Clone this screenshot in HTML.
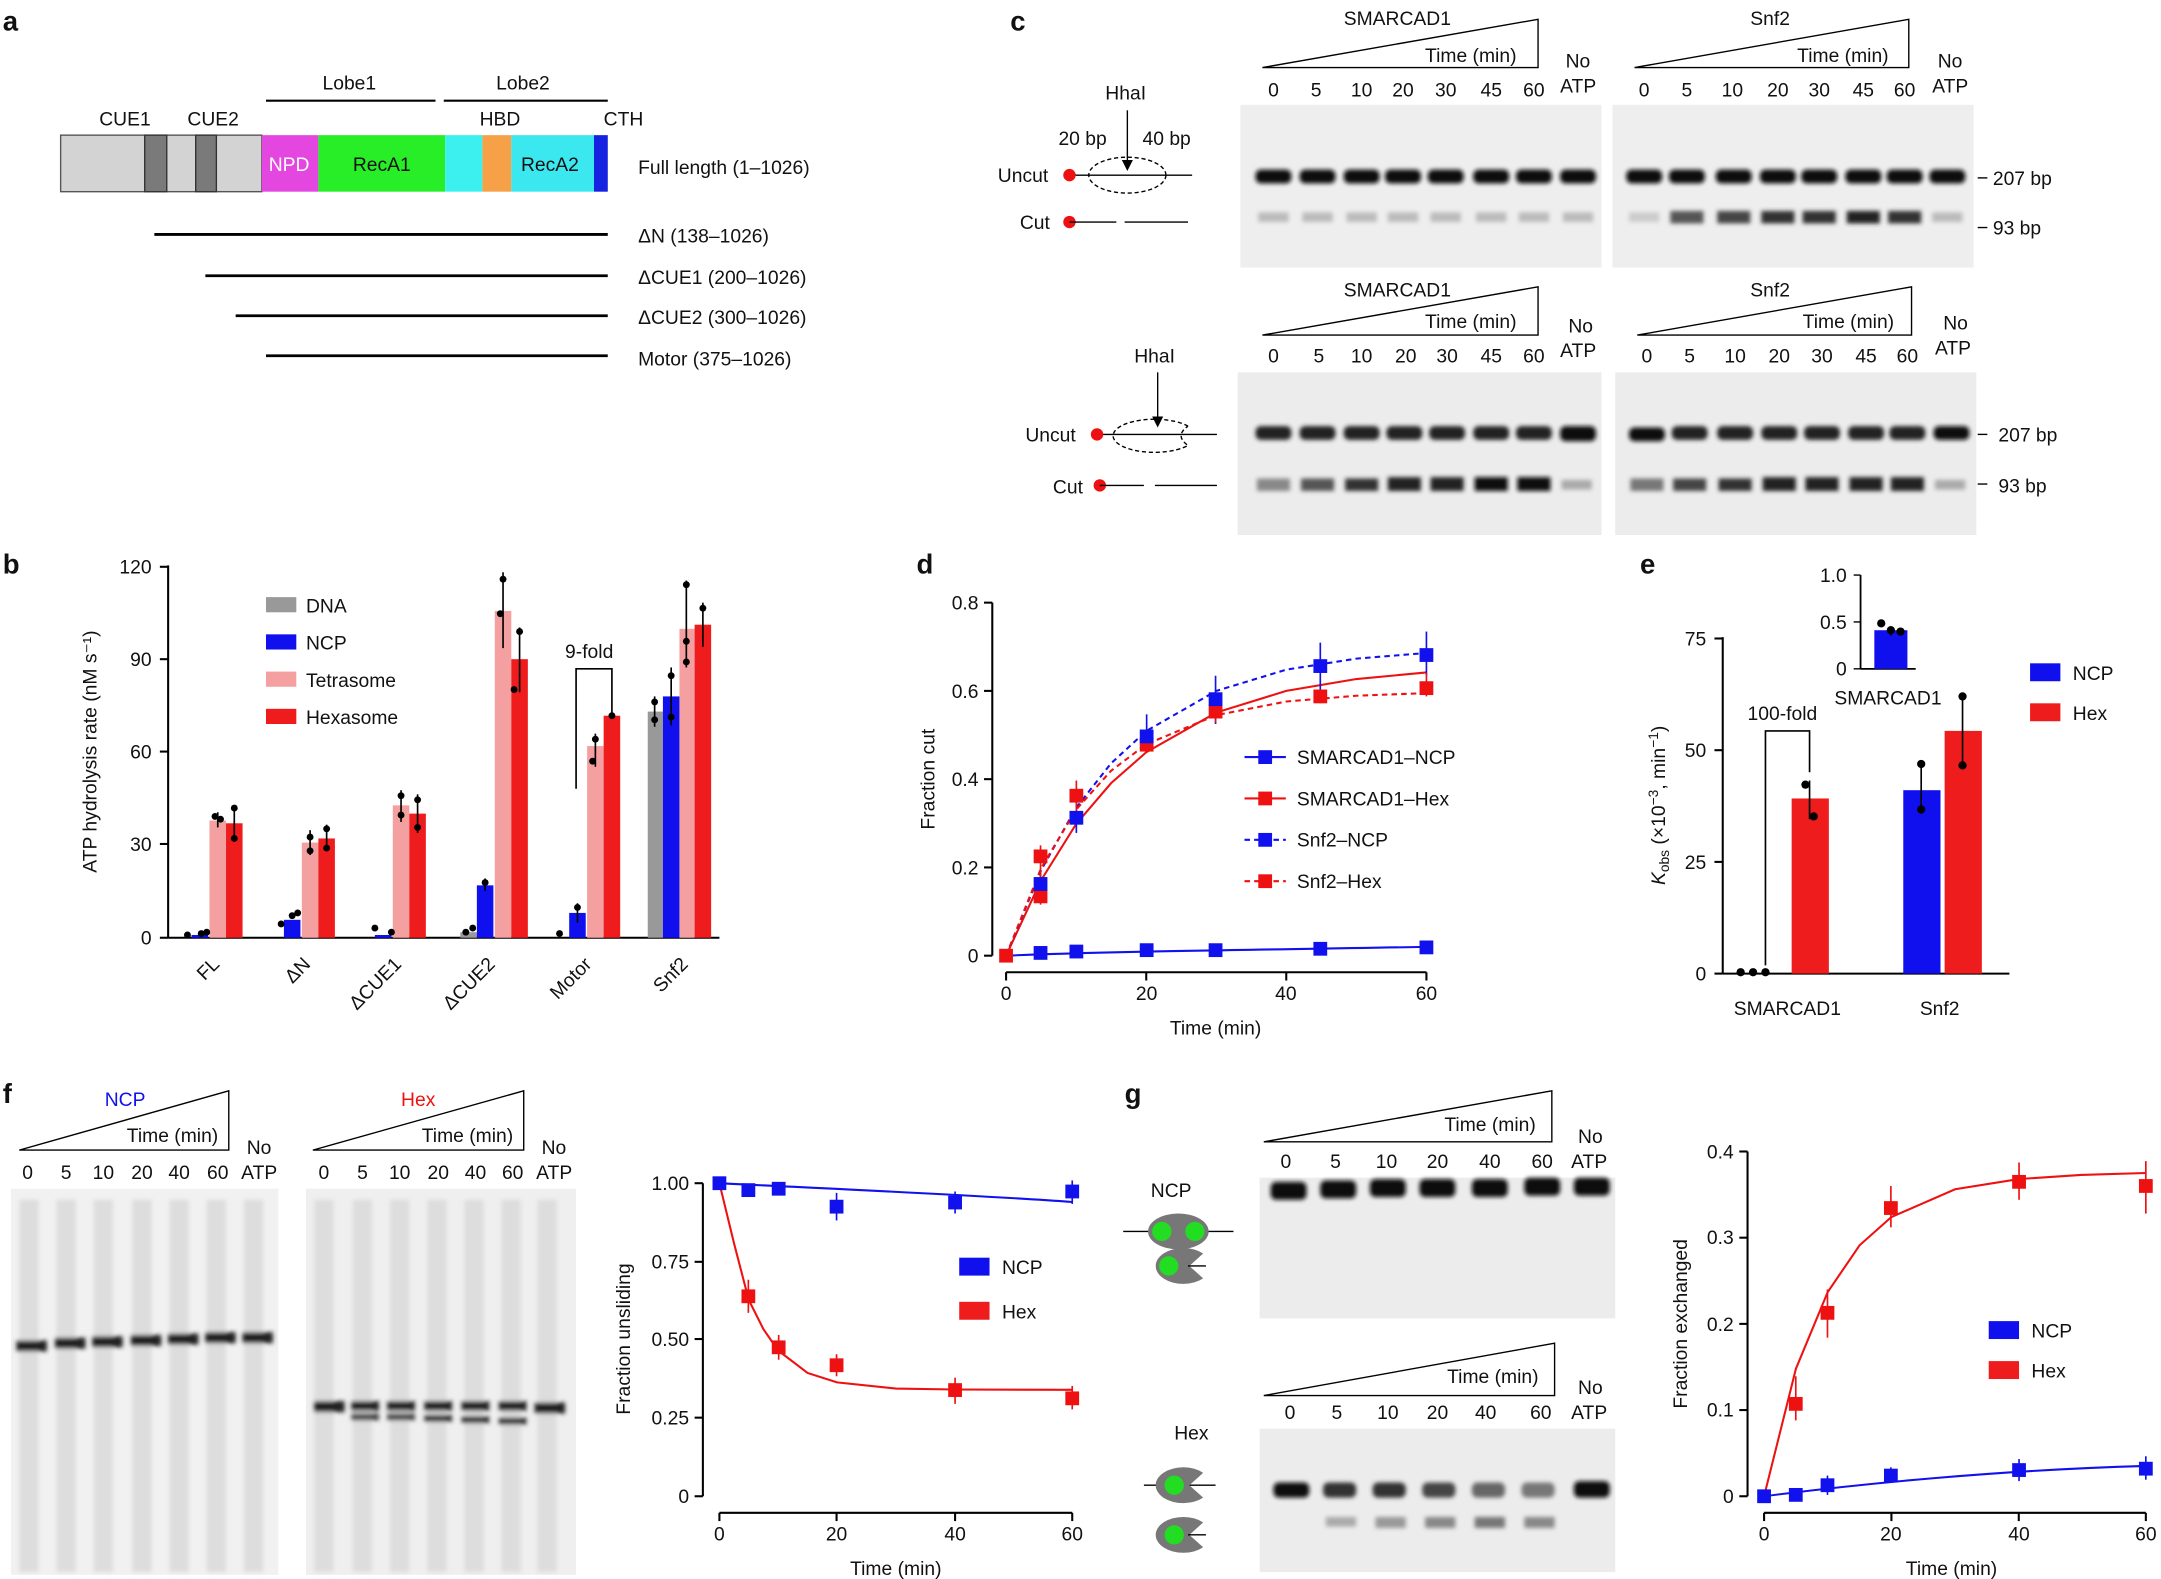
<!DOCTYPE html>
<html><head><meta charset="utf-8"><style>
html,body{margin:0;padding:0;background:#fff}
svg{display:block}
text{font-family:"Liberation Sans",Arial,sans-serif;fill:#111}
</style></head><body>
<svg width="2161" height="1579" viewBox="0 0 1568 1145" preserveAspectRatio="none" xmlns="http://www.w3.org/2000/svg">
<defs>
<filter id="bl" x="-20%" y="-50%" width="140%" height="200%"><feGaussianBlur stdDeviation="1.6"/></filter>
</defs>
<!-- Panel labels -->
<g font-weight="bold" font-size="20">
<text x="2" y="22">a</text><text x="733" y="22">c</text><text x="2" y="416">b</text>
<text x="665" y="416">d</text><text x="1190" y="416">e</text><text x="2" y="800">f</text><text x="816" y="800">g</text>
</g>

<!-- Panel a -->
<g font-size="14">
<text x="234" y="65">Lobe1</text><text x="360" y="65">Lobe2</text>
<line x1="193" y1="73" x2="316" y2="73" stroke="#000" stroke-width="1.5"/>
<line x1="322" y1="73" x2="441" y2="73" stroke="#000" stroke-width="1.5"/>
<text x="72" y="91">CUE1</text><text x="136" y="91">CUE2</text><text x="348" y="91">HBD</text><text x="438" y="91">CTH</text>
<rect x="44" y="98" width="146" height="41" fill="#d3d3d3" stroke="#555" stroke-width="1"/>
<rect x="105" y="98" width="16" height="41" fill="#7a7a7a" stroke="#333"/>
<rect x="142" y="98" width="15" height="41" fill="#7a7a7a" stroke="#333"/>
<rect x="190" y="98" width="41" height="41" fill="#e446e0"/>
<rect x="231" y="98" width="92" height="41" fill="#28ee28"/>
<rect x="323" y="98" width="27" height="41" fill="#3cf0f0"/>
<rect x="350" y="98" width="21" height="41" fill="#f6a048"/>
<rect x="371" y="98" width="60" height="41" fill="#3ce8ef"/>
<rect x="431" y="98" width="10" height="41" fill="#1522e0"/>
<text x="195" y="124" fill="#fff" style="fill:#fff">NPD</text>
<text x="256" y="124">RecA1</text><text x="378" y="124">RecA2</text>
<text x="463" y="126">Full length (1–1026)</text>
<g stroke="#000" stroke-width="2">
<line x1="112" y1="170" x2="441" y2="170"/><line x1="149" y1="200" x2="441" y2="200"/>
<line x1="171" y1="229" x2="441" y2="229"/><line x1="193" y1="258" x2="441" y2="258"/></g>
<text x="463" y="176">ΔN (138–1026)</text><text x="463" y="206">ΔCUE1 (200–1026)</text>
<text x="463" y="235">ΔCUE2 (300–1026)</text><text x="463" y="265">Motor (375–1026)</text>
</g>

<!-- Panel b -->
<g font-size="14">
<line x1="122" y1="410" x2="122" y2="680" stroke="#000" stroke-width="1.5"/>
<line x1="122" y1="680" x2="522" y2="680" stroke="#000" stroke-width="1.5"/>
<g stroke="#000" stroke-width="1.5"><line x1="116" y1="411" x2="122" y2="411"/><line x1="116" y1="478" x2="122" y2="478"/><line x1="116" y1="545" x2="122" y2="545"/><line x1="116" y1="612" x2="122" y2="612"/><line x1="116" y1="680" x2="122" y2="680"/></g>
<g text-anchor="end"><text x="110" y="416">120</text><text x="110" y="483">90</text><text x="110" y="550">60</text><text x="110" y="617">30</text><text x="110" y="685">0</text></g>
<text transform="translate(70,545) rotate(-90)" text-anchor="middle">ATP hydrolysis rate (nM s⁻¹)</text>
<rect x="193" y="433" width="22" height="11" fill="#999"/><text x="222" y="444">DNA</text>
<rect x="193" y="460" width="22" height="11" fill="#1010ee"/><text x="222" y="471">NCP</text>
<rect x="193" y="487" width="22" height="11" fill="#f5a0a0"/><text x="222" y="498">Tetrasome</text>
<rect x="193" y="514" width="22" height="11" fill="#ee1c1c"/><text x="222" y="525">Hexasome</text>
<text x="410" y="477">9-fold</text>
<polyline points="418,572 418,485 444,485 444,520" fill="none" stroke="#000" stroke-width="1.2"/>
<!-- bars: y = 680 - v*2.24 -->
<g>
<rect x="139" y="678" width="12" height="2" fill="#1010ee"/>
<rect x="152" y="595" width="12" height="85" fill="#f5a0a0"/><rect x="164" y="597" width="12" height="83" fill="#ee1c1c"/>
<rect x="206" y="667" width="12" height="13" fill="#1010ee"/>
<rect x="219" y="611" width="12" height="69" fill="#f5a0a0"/><rect x="231" y="608" width="12" height="72" fill="#ee1c1c"/>
<rect x="272" y="678" width="12" height="2" fill="#1010ee"/>
<rect x="285" y="584" width="12" height="96" fill="#f5a0a0"/><rect x="297" y="590" width="12" height="90" fill="#ee1c1c"/>
<rect x="334" y="676" width="12" height="4" fill="#999"/>
<rect x="346" y="642" width="12" height="38" fill="#1010ee"/>
<rect x="359" y="443" width="12" height="237" fill="#f5a0a0"/><rect x="371" y="478" width="12" height="202" fill="#ee1c1c"/>
<rect x="413" y="662" width="12" height="18" fill="#1010ee"/>
<rect x="426" y="541" width="12" height="139" fill="#f5a0a0"/><rect x="438" y="519" width="12" height="161" fill="#ee1c1c"/>
<rect x="470" y="516" width="11" height="164" fill="#999"/><rect x="481" y="505" width="12" height="175" fill="#1010ee"/>
<rect x="493" y="456" width="11" height="224" fill="#f5a0a0"/><rect x="504" y="453" width="12" height="227" fill="#ee1c1c"/>
</g>
<g stroke="#000" stroke-width="1.2">
<line x1="158" y1="589" x2="158" y2="600"/><line x1="170" y1="584" x2="170" y2="610"/>
<line x1="225" y1="602" x2="225" y2="620"/><line x1="237" y1="598" x2="237" y2="617"/>
<line x1="291" y1="573" x2="291" y2="596"/><line x1="303" y1="576" x2="303" y2="604"/>
<line x1="352" y1="637" x2="352" y2="646"/>
<line x1="365" y1="415" x2="365" y2="470"/><line x1="377" y1="455" x2="377" y2="502"/>
<line x1="419" y1="655" x2="419" y2="669"/>
<line x1="432" y1="532" x2="432" y2="556"/><line x1="444" y1="518" x2="444" y2="520"/>
<line x1="475" y1="505" x2="475" y2="527"/><line x1="487" y1="484" x2="487" y2="526"/>
<line x1="498" y1="421" x2="498" y2="484"/><line x1="510" y1="437" x2="510" y2="469"/>
</g>
<g fill="#000">
<circle cx="136" cy="678" r="2.5"/><circle cx="146" cy="677" r="2.5"/><circle cx="150" cy="676" r="2.5"/>
<circle cx="156" cy="592" r="2.5"/><circle cx="160" cy="594" r="2.5"/><circle cx="170" cy="586" r="2.5"/><circle cx="170" cy="608" r="2.5"/>
<circle cx="204" cy="670" r="2.5"/><circle cx="212" cy="664" r="2.5"/><circle cx="216" cy="662" r="2.5"/>
<circle cx="225" cy="607" r="2.5"/><circle cx="225" cy="617" r="2.5"/><circle cx="237" cy="601" r="2.5"/><circle cx="237" cy="615" r="2.5"/>
<circle cx="272" cy="673" r="2.5"/><circle cx="284" cy="676" r="2.5"/>
<circle cx="291" cy="577" r="2.5"/><circle cx="291" cy="591" r="2.5"/><circle cx="303" cy="580" r="2.5"/><circle cx="303" cy="600" r="2.5"/>
<circle cx="338" cy="676" r="2.5"/><circle cx="343" cy="673" r="2.5"/><circle cx="352" cy="640" r="2.5"/>
<circle cx="365" cy="420" r="2.5"/><circle cx="363" cy="445" r="2.5"/><circle cx="377" cy="458" r="2.5"/><circle cx="373" cy="500" r="2.5"/>
<circle cx="406" cy="677" r="2.5"/><circle cx="419" cy="658" r="2.5"/>
<circle cx="432" cy="536" r="2.5"/><circle cx="430" cy="552" r="2.5"/><circle cx="444" cy="519" r="2.5"/>
<circle cx="475" cy="509" r="2.5"/><circle cx="475" cy="522" r="2.5"/><circle cx="487" cy="490" r="2.5"/><circle cx="487" cy="520" r="2.5"/>
<circle cx="498" cy="424" r="2.5"/><circle cx="498" cy="465" r="2.5"/><circle cx="498" cy="480" r="2.5"/><circle cx="510" cy="441" r="2.5"/>
</g>
<g text-anchor="end" font-size="14">
<text transform="translate(160,700) rotate(-45)">FL</text>
<text transform="translate(226,700) rotate(-45)">ΔN</text>
<text transform="translate(292,700) rotate(-45)">ΔCUE1</text>
<text transform="translate(360,700) rotate(-45)">ΔCUE2</text>
<text transform="translate(430,700) rotate(-45)">Motor</text>
<text transform="translate(500,700) rotate(-45)">Snf2</text>
</g>
</g>

<!-- Panel c -->
<g font-size="14">
<!-- top-left schematic -->
<text x="802" y="72">HhaI</text><text x="768" y="105">20 bp</text><text x="829" y="105">40 bp</text>
<line x1="818" y1="80" x2="818" y2="122" stroke="#000"/><polygon points="814,116 822,116 818,124" fill="#000"/>
<ellipse cx="818" cy="127" rx="28" ry="13" fill="none" stroke="#000" stroke-dasharray="3,2"/>
<line x1="776" y1="127" x2="865" y2="127" stroke="#000"/><circle cx="776" cy="127" r="4.5" fill="#e11"/>
<text x="724" y="132">Uncut</text>
<text x="740" y="166">Cut</text><circle cx="776" cy="161" r="4.5" fill="#e11"/>
<line x1="776" y1="161" x2="810" y2="161" stroke="#000"/><line x1="816" y1="161" x2="862" y2="161" stroke="#000"/>
<!-- bottom-left schematic -->
<text x="823" y="263">HhaI</text>
<line x1="840" y1="270" x2="840" y2="308" stroke="#000"/><polygon points="836,302 844,302 840,310" fill="#000"/>
<path d="M862,309 A30,12 0 1,0 862,323 Q852,316 862,309" fill="none" stroke="#000" stroke-dasharray="3,2"/>
<line x1="796" y1="315" x2="883" y2="315" stroke="#000"/><circle cx="796" cy="315" r="4.5" fill="#e11"/>
<text x="744" y="320">Uncut</text>
<text x="764" y="358">Cut</text><circle cx="798" cy="352" r="4.5" fill="#e11"/>
<line x1="798" y1="352" x2="830" y2="352" stroke="#000"/><line x1="838" y1="352" x2="883" y2="352" stroke="#000"/>

<!-- headers -->
<text x="975" y="18">SMARCAD1</text><text x="1270" y="18">Snf2</text>
<polygon points="916,49 1116,14 1116,49" fill="none" stroke="#000"/>
<polygon points="1186,49 1385,14 1385,49" fill="none" stroke="#000"/>
<text x="1034" y="45">Time (min)</text><text x="1304" y="45">Time (min)</text>
<text x="1136" y="49">No</text><text x="1132" y="67">ATP</text><text x="1406" y="49">No</text><text x="1402" y="67">ATP</text>
<g text-anchor="middle"><text x="924" y="70">0</text><text x="955" y="70">5</text><text x="988" y="70">10</text><text x="1018" y="70">20</text><text x="1049" y="70">30</text><text x="1082" y="70">45</text><text x="1113" y="70">60</text>
<text x="1193" y="70">0</text><text x="1224" y="70">5</text><text x="1257" y="70">10</text><text x="1290" y="70">20</text><text x="1320" y="70">30</text><text x="1352" y="70">45</text><text x="1382" y="70">60</text></g>

<text x="975" y="215">SMARCAD1</text><text x="1270" y="215">Snf2</text>
<polygon points="916,243 1116,208 1116,243" fill="none" stroke="#000"/>
<polygon points="1188,243 1387,208 1387,243" fill="none" stroke="#000"/>
<text x="1034" y="238">Time (min)</text><text x="1308" y="238">Time (min)</text>
<text x="1138" y="241">No</text><text x="1132" y="259">ATP</text><text x="1410" y="239">No</text><text x="1404" y="257">ATP</text>
<g text-anchor="middle"><text x="924" y="263">0</text><text x="957" y="263">5</text><text x="988" y="263">10</text><text x="1020" y="263">20</text><text x="1050" y="263">30</text><text x="1082" y="263">45</text><text x="1113" y="263">60</text>
<text x="1195" y="263">0</text><text x="1226" y="263">5</text><text x="1259" y="263">10</text><text x="1291" y="263">20</text><text x="1322" y="263">30</text><text x="1354" y="263">45</text><text x="1384" y="263">60</text></g>

<!-- gels -->
<rect x="900" y="76" width="262" height="118" fill="#eeeeee"/>
<rect x="1170" y="76" width="262" height="118" fill="#eeeeee"/>
<rect x="898" y="270" width="264" height="118" fill="#ececec"/>
<rect x="1172" y="270" width="262" height="118" fill="#ececec"/>
<g filter="url(#bl)">
<g fill="#111">
<rect x="911" y="123" width="26" height="10" rx="4"/><rect x="943" y="123" width="26" height="10" rx="4"/><rect x="975" y="123" width="26" height="10" rx="4"/><rect x="1005" y="123" width="26" height="10" rx="4"/><rect x="1036" y="123" width="26" height="10" rx="4"/><rect x="1069" y="123" width="26" height="10" rx="4"/><rect x="1100" y="123" width="26" height="10" rx="4"/><rect x="1132" y="123" width="26" height="10" rx="4"/>
<rect x="1180" y="123" width="26" height="10" rx="4"/><rect x="1211" y="123" width="26" height="10" rx="4"/><rect x="1245" y="123" width="26" height="10" rx="4"/><rect x="1277" y="123" width="26" height="10" rx="4"/><rect x="1307" y="123" width="26" height="10" rx="4"/><rect x="1339" y="123" width="26" height="10" rx="4"/><rect x="1369" y="123" width="26" height="10" rx="4"/><rect x="1400" y="123" width="26" height="10" rx="4"/>
</g>
<g fill="#bbb"><rect x="913" y="154" width="22" height="7"/><rect x="945" y="154" width="22" height="7"/><rect x="977" y="154" width="22" height="7"/><rect x="1007" y="154" width="22" height="7"/><rect x="1038" y="154" width="22" height="7"/><rect x="1071" y="154" width="22" height="7"/><rect x="1102" y="154" width="22" height="7"/><rect x="1134" y="154" width="22" height="7"/></g>
<rect x="1182" y="154" width="22" height="7" fill="#ccc"/><rect x="1212" y="153" width="24" height="9" fill="#555"/><rect x="1246" y="153" width="24" height="9" fill="#444"/><rect x="1278" y="153" width="24" height="9" fill="#333"/><rect x="1308" y="153" width="24" height="9" fill="#333"/><rect x="1340" y="153" width="24" height="9" fill="#222"/><rect x="1370" y="153" width="24" height="9" fill="#333"/><rect x="1402" y="154" width="22" height="7" fill="#bbb"/>
<g fill="#222">
<rect x="911" y="309" width="26" height="10" rx="4"/><rect x="943" y="309" width="26" height="10" rx="4"/><rect x="975" y="309" width="26" height="10" rx="4"/><rect x="1006" y="309" width="26" height="10" rx="4"/><rect x="1037" y="309" width="26" height="10" rx="4"/><rect x="1069" y="309" width="26" height="10" rx="4"/><rect x="1100" y="309" width="26" height="10" rx="4"/><rect x="1132" y="309" width="26" height="11" rx="4" fill="#111"/>
<rect x="1182" y="310" width="26" height="10" rx="4" fill="#111"/><rect x="1213" y="309" width="26" height="10" rx="4"/><rect x="1246" y="309" width="26" height="10" rx="4"/><rect x="1278" y="309" width="26" height="10" rx="4"/><rect x="1309" y="309" width="26" height="10" rx="4"/><rect x="1341" y="309" width="26" height="10" rx="4"/><rect x="1371" y="309" width="26" height="10" rx="4"/><rect x="1403" y="309" width="26" height="10" rx="4" fill="#111"/>
</g>
<g fill="#333">
<rect x="912" y="347" width="24" height="9" fill="#888"/><rect x="944" y="347" width="24" height="9" fill="#555"/><rect x="976" y="347" width="24" height="9"/><rect x="1007" y="346" width="24" height="10" fill="#222"/><rect x="1038" y="346" width="24" height="10" fill="#222"/><rect x="1070" y="346" width="24" height="10" fill="#111"/><rect x="1101" y="346" width="24" height="10" fill="#111"/><rect x="1133" y="348" width="22" height="7" fill="#aaa"/>
<rect x="1183" y="347" width="24" height="9" fill="#777"/><rect x="1214" y="347" width="24" height="9" fill="#444"/><rect x="1247" y="347" width="24" height="9"/><rect x="1279" y="346" width="24" height="10" fill="#222"/><rect x="1310" y="346" width="24" height="10" fill="#222"/><rect x="1342" y="346" width="24" height="10" fill="#222"/><rect x="1372" y="346" width="24" height="10" fill="#222"/><rect x="1404" y="348" width="22" height="7" fill="#aaa"/>
</g>
</g>
<g stroke="#000"><line x1="1435" y1="129" x2="1442" y2="129"/><line x1="1435" y1="165" x2="1442" y2="165"/><line x1="1435" y1="315" x2="1442" y2="315"/><line x1="1435" y1="351" x2="1442" y2="351"/></g>
<text x="1446" y="134">207 bp</text><text x="1446" y="170">93 bp</text><text x="1450" y="320">207 bp</text><text x="1450" y="357">93 bp</text>
</g>

<!-- Panel d -->
<g font-size="14">
<line x1="720" y1="437" x2="720" y2="693" stroke="#000" stroke-width="1.5"/>
<line x1="730" y1="705" x2="1035" y2="705" stroke="#000" stroke-width="1.5"/>
<g stroke="#000" stroke-width="1.5"><line x1="714" y1="437" x2="720" y2="437"/><line x1="714" y1="501" x2="720" y2="501"/><line x1="714" y1="565" x2="720" y2="565"/><line x1="714" y1="629" x2="720" y2="629"/><line x1="714" y1="693" x2="720" y2="693"/>
<line x1="730" y1="705" x2="730" y2="711"/><line x1="831.7" y1="705" x2="831.7" y2="711"/><line x1="933.3" y1="705" x2="933.3" y2="711"/><line x1="1035" y1="705" x2="1035" y2="711"/></g>
<g text-anchor="end"><text x="710" y="442">0.8</text><text x="710" y="506">0.6</text><text x="710" y="570">0.4</text><text x="710" y="634">0.2</text><text x="710" y="698">0</text></g>
<g text-anchor="middle"><text x="730" y="725">0</text><text x="832" y="725">20</text><text x="933" y="725">40</text><text x="1035" y="725">60</text><text x="882" y="750">Time (min)</text></g>
<text transform="translate(678,565) rotate(-90)" text-anchor="middle">Fraction cut</text>
<path d="M730,693 C800,690 900,689 1035,686.6" fill="none" stroke="#11e" stroke-width="1.5"/>
<polyline points="730,693 755.4,638.3 780.8,597.6 806.2,567.9 831.7,545.5 882.5,516.7 933.3,501 984.2,492.4 1035,487.6" fill="none" stroke="#e11" stroke-width="1.5"/>
<polyline points="730,693 755.4,631 780.8,585.8 806.2,553.5 831.7,530.1 882.5,501 933.3,485.6 984.2,477.6 1035,473.5" fill="none" stroke="#11e" stroke-width="1.5" stroke-dasharray="4,3"/>
<polyline points="730,693 755.4,629.6 780.8,587.1 806.2,558.9 831.7,539.7 882.5,518.6 933.3,508.7 984.2,504.5 1035,502.6" fill="none" stroke="#e11" stroke-width="1.5" stroke-dasharray="4,3"/>
<g stroke="#11e" stroke-width="1.2"><line x1="755" y1="632" x2="755" y2="650"/><line x1="781" y1="582" x2="781" y2="604"/><line x1="832" y1="518" x2="832" y2="545"/><line x1="882" y1="490" x2="882" y2="525"/><line x1="958" y1="466" x2="958" y2="500"/><line x1="1035" y1="458" x2="1035" y2="490"/></g>
<g stroke="#e11" stroke-width="1.2"><line x1="755" y1="613" x2="755" y2="656"/><line x1="781" y1="566" x2="781" y2="588"/><line x1="882" y1="510" x2="882" y2="524"/><line x1="958" y1="500" x2="958" y2="510"/><line x1="1035" y1="488" x2="1035" y2="505"/></g>
<g fill="#e11"><rect x="725" y="688" width="10" height="10"/><rect x="750" y="616" width="10" height="10"/><rect x="750" y="645" width="10" height="10"/><rect x="776" y="572" width="10" height="10"/><rect x="827" y="535" width="10" height="10"/><rect x="877" y="511" width="10" height="10"/><rect x="953" y="500" width="10" height="10"/><rect x="1030" y="494" width="10" height="10"/></g>
<g fill="#11e"><rect x="750" y="636" width="10" height="10"/><rect x="776" y="588" width="10" height="10"/><rect x="827" y="529" width="10" height="10"/><rect x="877" y="502" width="10" height="10"/><rect x="953" y="478" width="10" height="10"/><rect x="1030" y="470" width="10" height="10"/>
<rect x="750" y="686" width="10" height="10"/><rect x="776" y="685" width="10" height="10"/><rect x="827" y="684" width="10" height="10"/><rect x="877" y="684" width="10" height="10"/><rect x="953" y="683" width="10" height="10"/><rect x="1030" y="682" width="10" height="10"/></g>
<line x1="903" y1="549" x2="933" y2="549" stroke="#11e" stroke-width="1.5"/><rect x="913" y="544" width="10" height="10" fill="#11e"/><text x="941" y="554">SMARCAD1–NCP</text>
<line x1="903" y1="579" x2="933" y2="579" stroke="#e11" stroke-width="1.5"/><rect x="913" y="574" width="10" height="10" fill="#e11"/><text x="941" y="584">SMARCAD1–Hex</text>
<line x1="903" y1="609" x2="933" y2="609" stroke="#11e" stroke-width="1.5" stroke-dasharray="4,3"/><rect x="913" y="604" width="10" height="10" fill="#11e"/><text x="941" y="614">Snf2–NCP</text>
<line x1="903" y1="639" x2="933" y2="639" stroke="#e11" stroke-width="1.5" stroke-dasharray="4,3"/><rect x="913" y="634" width="10" height="10" fill="#e11"/><text x="941" y="644">Snf2–Hex</text>
</g>

<!-- Panel e -->
<g font-size="14">
<line x1="1250" y1="462" x2="1250" y2="706" stroke="#000" stroke-width="1.5"/>
<line x1="1250" y1="706" x2="1458" y2="706" stroke="#000" stroke-width="1.5"/>
<g stroke="#000" stroke-width="1.5"><line x1="1244" y1="463" x2="1250" y2="463"/><line x1="1244" y1="544" x2="1250" y2="544"/><line x1="1244" y1="625" x2="1250" y2="625"/><line x1="1244" y1="706" x2="1250" y2="706"/></g>
<g text-anchor="end"><text x="1238" y="468">75</text><text x="1238" y="549">50</text><text x="1238" y="630">25</text><text x="1238" y="711">0</text></g>
<text transform="translate(1208,584) rotate(-90)" text-anchor="middle"><tspan font-style="italic">K</tspan><tspan font-size="10" dy="3">obs</tspan><tspan dy="-3"> (×10</tspan><tspan font-size="10" dy="-5">−3</tspan><tspan dy="5">, min</tspan><tspan font-size="10" dy="-5">−1</tspan><tspan dy="5">)</tspan></text>
<rect x="1300" y="579" width="27" height="127" fill="#ee1c1c"/>
<rect x="1381" y="573" width="27" height="133" fill="#1010ee"/>
<rect x="1411" y="530" width="27" height="176" fill="#ee1c1c"/>
<g stroke="#000" stroke-width="1.2"><line x1="1313" y1="566" x2="1313" y2="594"/><line x1="1394" y1="553" x2="1394" y2="590"/><line x1="1424" y1="504" x2="1424" y2="557"/></g>
<g fill="#000"><circle cx="1263" cy="705" r="3"/><circle cx="1272" cy="705" r="3"/><circle cx="1281" cy="705" r="3"/>
<circle cx="1310" cy="569" r="3"/><circle cx="1316" cy="592" r="3"/><circle cx="1394" cy="554" r="3"/><circle cx="1394" cy="587" r="3"/><circle cx="1424" cy="505" r="3"/><circle cx="1424" cy="555" r="3"/></g>
<polyline points="1281,700 1281,530 1313,530 1313,560" fill="none" stroke="#000" stroke-width="1.2"/>
<text x="1268" y="522">100-fold</text>
<text x="1258" y="736">SMARCAD1</text><text x="1393" y="736">Snf2</text>
<!-- inset -->
<line x1="1350" y1="417" x2="1350" y2="485" stroke="#000" stroke-width="1.3"/>
<line x1="1350" y1="485" x2="1390" y2="485" stroke="#000" stroke-width="1.3"/>
<g stroke="#000"><line x1="1345" y1="417" x2="1350" y2="417"/><line x1="1345" y1="451" x2="1350" y2="451"/><line x1="1345" y1="485" x2="1350" y2="485"/></g>
<g text-anchor="end"><text x="1340" y="422">1.0</text><text x="1340" y="456">0.5</text><text x="1340" y="490">0</text></g>
<rect x="1360" y="457" width="24" height="28" fill="#1010ee"/>
<line x1="1372" y1="454" x2="1372" y2="461" stroke="#000"/>
<g fill="#000"><circle cx="1365" cy="452" r="3"/><circle cx="1372" cy="457" r="3"/><circle cx="1379" cy="458" r="3"/></g>
<text x="1331" y="511">SMARCAD1</text>
<rect x="1473" y="481" width="22" height="13" fill="#1010ee"/><text x="1504" y="493">NCP</text>
<rect x="1473" y="510" width="22" height="13" fill="#ee1c1c"/><text x="1504" y="522">Hex</text>
</g>

<!-- Panel f -->
<g font-size="14">
<text x="76" y="802" fill="#11e" style="fill:#1111ee">NCP</text><text x="291" y="802" style="fill:#ee1111">Hex</text>
<polygon points="14,834 166,791 166,834" fill="none" stroke="#000"/>
<polygon points="227,834 380,791 380,834" fill="none" stroke="#000"/>
<text x="92" y="828">Time (min)</text><text x="306" y="828">Time (min)</text>
<text x="179" y="837">No</text><text x="175" y="855">ATP</text><text x="393" y="837">No</text><text x="389" y="855">ATP</text>
<g text-anchor="middle"><text x="20" y="855">0</text><text x="48" y="855">5</text><text x="75" y="855">10</text><text x="103" y="855">20</text><text x="130" y="855">40</text><text x="158" y="855">60</text>
<text x="235" y="855">0</text><text x="263" y="855">5</text><text x="290" y="855">10</text><text x="318" y="855">20</text><text x="345" y="855">40</text><text x="372" y="855">60</text></g>
<rect x="8" y="862" width="194" height="280" fill="#f1f1f1"/>
<rect x="222" y="862" width="196" height="280" fill="#efefef"/>
<g filter="url(#bl)">
<g fill="#ddd"><rect x="14" y="870" width="14" height="270"/><rect x="41" y="870" width="14" height="270"/><rect x="68" y="870" width="14" height="270"/><rect x="96" y="870" width="14" height="270"/><rect x="123" y="870" width="14" height="270"/><rect x="150" y="870" width="14" height="270"/><rect x="177" y="870" width="14" height="270"/>
<rect x="228" y="870" width="14" height="270"/><rect x="256" y="870" width="14" height="270"/><rect x="283" y="870" width="14" height="270"/><rect x="310" y="870" width="14" height="270"/><rect x="337" y="870" width="14" height="270"/><rect x="364" y="870" width="14" height="270"/><rect x="390" y="870" width="14" height="270"/></g>
<g fill="#222"><rect x="12" y="972" width="22" height="8"/><rect x="40" y="970" width="22" height="8"/><rect x="67" y="969" width="22" height="8"/><rect x="95" y="968" width="22" height="8"/><rect x="122" y="967" width="22" height="8"/><rect x="149" y="966" width="22" height="8"/><rect x="176" y="966" width="22" height="8"/>
<rect x="228" y="1016" width="22" height="8"/><rect x="255" y="1016" width="20" height="7"/><rect x="255" y="1025" width="20" height="5" fill="#444"/><rect x="281" y="1016" width="20" height="7"/><rect x="281" y="1025" width="20" height="5" fill="#444"/><rect x="308" y="1016" width="20" height="7"/><rect x="308" y="1026" width="20" height="5" fill="#333"/><rect x="335" y="1016" width="20" height="7"/><rect x="335" y="1027" width="20" height="5" fill="#333"/><rect x="362" y="1016" width="20" height="7"/><rect x="362" y="1028" width="20" height="5" fill="#333"/><rect x="388" y="1017" width="22" height="8"/></g>
</g>
<line x1="510" y1="858" x2="510" y2="1085" stroke="#000" stroke-width="1.5"/>
<line x1="522" y1="1097" x2="778" y2="1097" stroke="#000" stroke-width="1.5"/>
<g stroke="#000" stroke-width="1.5"><line x1="504" y1="858" x2="510" y2="858"/><line x1="504" y1="915" x2="510" y2="915"/><line x1="504" y1="971" x2="510" y2="971"/><line x1="504" y1="1028" x2="510" y2="1028"/><line x1="504" y1="1085" x2="510" y2="1085"/>
<line x1="522" y1="1097" x2="522" y2="1103"/><line x1="607" y1="1097" x2="607" y2="1103"/><line x1="693" y1="1097" x2="693" y2="1103"/><line x1="778" y1="1097" x2="778" y2="1103"/></g>
<g text-anchor="end"><text x="500" y="863">1.00</text><text x="500" y="920">0.75</text><text x="500" y="976">0.50</text><text x="500" y="1033">0.25</text><text x="500" y="1090">0</text></g>
<g text-anchor="middle"><text x="522" y="1117">0</text><text x="607" y="1117">20</text><text x="693" y="1117">40</text><text x="778" y="1117">60</text><text x="650" y="1142">Time (min)</text></g>
<text transform="translate(457,971) rotate(-90)" text-anchor="middle">Fraction unsliding</text>
<path d="M522,858 C600,862 700,866 778,871.6" fill="none" stroke="#11e" stroke-width="1.5"/>
<polyline points="522,858 532.7,902 543.3,942.7 554,964 564.7,979.4 586,995.6 607.3,1002.4 650,1006.9 692.7,1007.6 778,1007.8" fill="none" stroke="#e11" stroke-width="1.5"/>
<g stroke="#11e" stroke-width="1.2"><line x1="607" y1="865" x2="607" y2="885"/><line x1="693" y1="864" x2="693" y2="880"/><line x1="778" y1="856" x2="778" y2="873"/></g>
<g stroke="#e11" stroke-width="1.2"><line x1="543" y1="928" x2="543" y2="952"/><line x1="565" y1="968" x2="565" y2="986"/><line x1="607" y1="982" x2="607" y2="998"/><line x1="693" y1="999" x2="693" y2="1018"/><line x1="778" y1="1005" x2="778" y2="1022"/></g>
<g fill="#11e"><rect x="517" y="853" width="10" height="10"/><rect x="538" y="858" width="10" height="10"/><rect x="560" y="857" width="10" height="10"/><rect x="602" y="870" width="10" height="10"/><rect x="688" y="867" width="10" height="10"/><rect x="773" y="859" width="10" height="10"/></g>
<g fill="#e11"><rect x="538" y="935" width="10" height="10"/><rect x="560" y="972" width="10" height="10"/><rect x="602" y="985" width="10" height="10"/><rect x="688" y="1003" width="10" height="10"/><rect x="773" y="1009" width="10" height="10"/></g>
<rect x="696" y="912" width="22" height="13" fill="#1010ee"/><text x="727" y="924">NCP</text>
<rect x="696" y="944" width="22" height="13" fill="#ee1c1c"/><text x="727" y="956">Hex</text>
</g>

<!-- Panel g -->
<g font-size="14">
<polygon points="917,828 1126,791 1126,828" fill="none" stroke="#000"/>
<text x="1048" y="820">Time (min)</text><text x="1145" y="829">No</text><text x="1140" y="847">ATP</text>
<g text-anchor="middle"><text x="933" y="847">0</text><text x="969" y="847">5</text><text x="1006" y="847">10</text><text x="1043" y="847">20</text><text x="1081" y="847">40</text><text x="1119" y="847">60</text></g>
<polygon points="917,1012 1128,974 1128,1012" fill="none" stroke="#000"/>
<text x="1050" y="1003">Time (min)</text><text x="1145" y="1011">No</text><text x="1140" y="1029">ATP</text>
<g text-anchor="middle"><text x="936" y="1029">0</text><text x="970" y="1029">5</text><text x="1007" y="1029">10</text><text x="1043" y="1029">20</text><text x="1078" y="1029">40</text><text x="1118" y="1029">60</text></g>
<rect x="914" y="854" width="258" height="102" fill="#ececec"/>
<rect x="914" y="1036" width="258" height="104" fill="#ececec"/>
<g filter="url(#bl)" fill="#111">
<rect x="922" y="857" width="26" height="13" rx="4"/><rect x="958" y="856" width="26" height="13" rx="4"/><rect x="994" y="855" width="26" height="13" rx="4"/><rect x="1030" y="855" width="26" height="13" rx="4"/><rect x="1068" y="855" width="26" height="13" rx="4"/><rect x="1106" y="854" width="26" height="13" rx="4"/><rect x="1142" y="854" width="26" height="13" rx="4"/>
<rect x="924" y="1075" width="26" height="11" rx="4"/><rect x="960" y="1075" width="24" height="11" rx="4" fill="#333"/><rect x="996" y="1075" width="24" height="11" rx="4" fill="#333"/><rect x="1032" y="1075" width="24" height="11" rx="4" fill="#444"/><rect x="1068" y="1075" width="24" height="11" rx="4" fill="#666"/><rect x="1104" y="1075" width="24" height="11" rx="4" fill="#777"/><rect x="1142" y="1074" width="26" height="12" rx="4"/>
<rect x="962" y="1100" width="22" height="7" fill="#aaa"/><rect x="998" y="1100" width="22" height="8" fill="#999"/><rect x="1034" y="1100" width="22" height="8" fill="#888"/><rect x="1070" y="1100" width="22" height="8" fill="#777"/><rect x="1106" y="1100" width="22" height="8" fill="#888"/>
</g>
<text x="835" y="868">NCP</text>
<line x1="815" y1="893" x2="895" y2="893" stroke="#000"/>
<ellipse cx="855" cy="893" rx="22" ry="13" fill="#777"/><circle cx="843" cy="893" r="7" fill="#2d2"/><circle cx="867" cy="893" r="7" fill="#2d2"/>
<path d="M855,918 m18,-9 a20,13 0 1,0 0,18 l-10,-9 z" fill="#777"/><circle cx="848" cy="918" r="7" fill="#2d2"/><line x1="862" y1="918" x2="875" y2="918" stroke="#000"/>
<text x="852" y="1044">Hex</text>
<line x1="830" y1="1077" x2="882" y2="1077" stroke="#000"/>
<path d="M855,1077 m18,-9 a20,13 0 1,0 0,18 l-10,-9 z" fill="#777"/><circle cx="852" cy="1077" r="7" fill="#2d2"/>
<path d="M855,1113 m18,-9 a20,13 0 1,0 0,18 l-10,-9 z" fill="#777"/><circle cx="852" cy="1113" r="7" fill="#2d2"/><line x1="862" y1="1113" x2="875" y2="1113" stroke="#000"/>

<line x1="1268" y1="835" x2="1268" y2="1085" stroke="#000" stroke-width="1.5"/>
<line x1="1280" y1="1097" x2="1557" y2="1097" stroke="#000" stroke-width="1.5"/>
<g stroke="#000" stroke-width="1.5"><line x1="1262" y1="835" x2="1268" y2="835"/><line x1="1262" y1="897.5" x2="1268" y2="897.5"/><line x1="1262" y1="960" x2="1268" y2="960"/><line x1="1262" y1="1022.5" x2="1268" y2="1022.5"/><line x1="1262" y1="1085" x2="1268" y2="1085"/>
<line x1="1280" y1="1097" x2="1280" y2="1103"/><line x1="1372.4" y1="1097" x2="1372.4" y2="1103"/><line x1="1464.8" y1="1097" x2="1464.8" y2="1103"/><line x1="1557" y1="1097" x2="1557" y2="1103"/></g>
<g text-anchor="end"><text x="1258" y="840">0.4</text><text x="1258" y="902">0.3</text><text x="1258" y="965">0.2</text><text x="1258" y="1027">0.1</text><text x="1258" y="1090">0</text></g>
<g text-anchor="middle"><text x="1280" y="1117">0</text><text x="1372" y="1117">20</text><text x="1465" y="1117">40</text><text x="1557" y="1117">60</text><text x="1416" y="1142">Time (min)</text></g>
<text transform="translate(1224,960) rotate(-90)" text-anchor="middle">Fraction exchanged</text>
<polyline points="1280,1085 1303.1,992.5 1326.2,936.9 1349.3,903 1372.4,882.5 1418.6,862.4 1464.8,855 1510,852 1557,850.6" fill="none" stroke="#e11" stroke-width="1.5"/>
<path d="M1280,1085 C1350,1076 1450,1066 1557,1063" fill="none" stroke="#11e" stroke-width="1.5"/>
<g stroke="#e11" stroke-width="1.2"><line x1="1303" y1="998" x2="1303" y2="1030"/><line x1="1326" y1="935" x2="1326" y2="970"/><line x1="1372" y1="860" x2="1372" y2="890"/><line x1="1465" y1="843" x2="1465" y2="870"/><line x1="1557" y1="842" x2="1557" y2="880"/></g>
<g stroke="#11e" stroke-width="1.2"><line x1="1326" y1="1070" x2="1326" y2="1084"/><line x1="1372" y1="1064" x2="1372" y2="1075"/><line x1="1465" y1="1058" x2="1465" y2="1074"/><line x1="1557" y1="1056" x2="1557" y2="1073"/></g>
<g fill="#e11"><rect x="1298" y="1013" width="10" height="10"/><rect x="1321" y="947" width="10" height="10"/><rect x="1367" y="871" width="10" height="10"/><rect x="1460" y="852" width="10" height="10"/><rect x="1552" y="855" width="10" height="10"/></g>
<g fill="#11e"><rect x="1275" y="1080" width="10" height="10"/><rect x="1298" y="1079" width="10" height="10"/><rect x="1321" y="1072" width="10" height="10"/><rect x="1367" y="1065" width="10" height="10"/><rect x="1460" y="1061" width="10" height="10"/><rect x="1552" y="1060" width="10" height="10"/></g>
<rect x="1443" y="958" width="22" height="13" fill="#1010ee"/><text x="1474" y="970">NCP</text>
<rect x="1443" y="987" width="22" height="13" fill="#ee1c1c"/><text x="1474" y="999">Hex</text>
</g>
</svg>
</body></html>
